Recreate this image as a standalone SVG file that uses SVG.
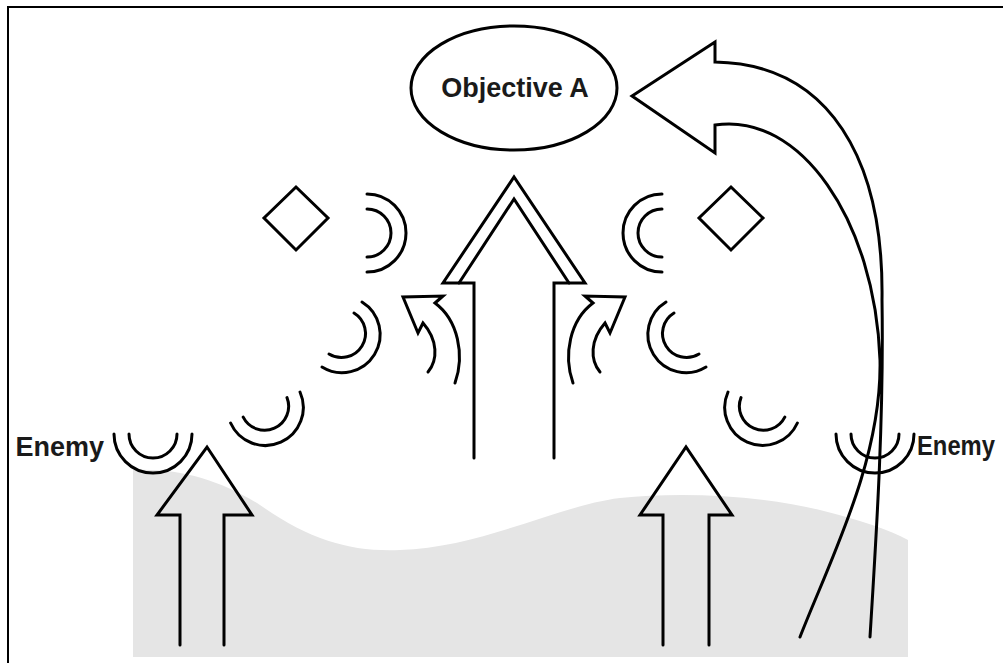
<svg xmlns="http://www.w3.org/2000/svg" width="1003" height="663" viewBox="0 0 1003 663">
<style>
.ln{fill:none;stroke:#000;stroke-width:3;stroke-linejoin:miter;stroke-linecap:round}
.lbl{font-family:"Liberation Sans",Arial,sans-serif;font-weight:bold;font-size:27px;fill:#1a1a1a}
</style>
<rect x="0" y="0" width="1003" height="663" fill="#fff"/>
<rect x="8" y="7" width="1010" height="670" fill="none" stroke="#000" stroke-width="2"/>
<g id="terrain"><path d="M133,470 C180,468 220,480 260,505 C310,540 350,552 400,550 C480,548 560,505 620,498 C680,492 760,495 820,510 C860,520 890,530 908,540 L908,657 L133,657 Z" fill="#e5e5e5"/></g>
<g id="objective"><ellipse cx="514" cy="88" rx="103" ry="62" class="ln"/><text class="lbl" x="515" y="97" text-anchor="middle">Objective A</text></g>
<g id="diamond-left"><path class="ln" d="M296,187 L328,218 L296,250 L264,218 Z"/></g>
<g id="diamond-right"><path class="ln" d="M731,187 L763,218 L731,250 L699,218 Z"/></g>
<g id="enemy-left"><path class="ln" d="M114,434 A39,39 0 0 0 192,434 M129,434 A24,24 0 0 0 177,434"/><text class="lbl" x="104" y="456" text-anchor="end">Enemy</text></g>
<g id="enemy-right"><path class="ln" d="M836,434 A39,39 0 0 0 914,434 M851,434 A24,24 0 0 0 899,434"/><text class="lbl" x="917" y="455" font-size="25" textLength="78" lengthAdjust="spacingAndGlyphs">Enemy</text></g>
<g id="pos-l1"><path class="ln" d="M367,194 A39,39 0 0 1 367,272 M367,209 A24,24 0 0 1 367,257"/></g>
<g id="pos-r1"><path class="ln" d="M662,194 A39,39 0 0 0 662,272 M662,209 A24,24 0 0 0 662,257"/></g>
<g id="pos-l2"><path class="ln" d="M362,302 A38,38 0 0 1 322,367 M354,313 A24,24 0 0 1 329,354"/></g>
<g id="pos-r2"><path class="ln" d="M666,302 A38,38 0 0 0 706,367 M674,313 A24,24 0 0 0 699,354"/></g>
<g id="pos-l3"><path class="ln" d="M300,392 A38,38 0 0 1 230.6,423 M287,397.6 A24,24 0 0 1 243.2,417.1"/></g>
<g id="pos-r3"><path class="ln" d="M728,392 A38,38 0 0 0 797.4,423 M741,397.6 A24,24 0 0 0 784.8,417.1"/></g>
<g id="connectors">
<path class="ln" d="M474,458 L474,283 L443,283 L514,177 L585,283 L554,283 L554,458"/>
<path class="ln" d="M459,283 L514,199 L569,283"/>
<path class="ln" d="M455,383 C465,355 458,320 435,303 L443,296 L403,297 L418,333 L423,323 C438,340 438,360 428,372"/>
<path class="ln" d="M573,383 C563,355 570,320 593,303 L585,296 L625,297 L610,333 L605,323 C590,340 590,360 600,372"/>
<path class="ln" d="M180,645 L180,515 L157,515 L207,447 L252,515 L224,515 L224,645"/>
<path class="ln" d="M663,645 L663,515 L640,515 L686,447 L732,515 L709,515 L709,645"/>
<path class="ln" d="M870,637 C876,540 884,420 882,300 C884,160 830,64 715,62 L715,42 L632,96 L715,153 L715,125 C800,112 875,220 880,360 C882,460 830,560 800,637"/>
</g>
</svg>
